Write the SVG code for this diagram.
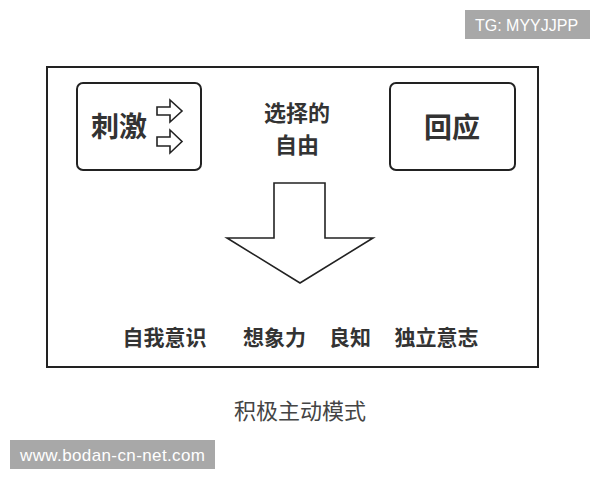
<svg xmlns="http://www.w3.org/2000/svg" width="600" height="480" viewBox="0 0 600 480">
<style>
.box{fill:#fff;stroke:#222;stroke-width:2}
.ln{fill:#fff;stroke:#222;stroke-width:1.6;stroke-linejoin:miter}
.cn{font-family:"Noto Sans CJK SC","Noto Sans",sans-serif;font-weight:bold;fill:#333;text-anchor:middle}
.wm{font-family:"Liberation Sans",Arial,sans-serif;fill:#fff}
</style>
<rect width="600" height="480" fill="#fff"/>
<g id="frame"><rect class="box" x="47" y="67" width="491" height="300"/></g>
<g id="stimulus">
<rect class="box" x="77" y="83" width="124" height="87" rx="6"/>
<text class="cn" x="119" y="137" font-size="28">刺激</text>
</g>
<g id="response">
<rect class="box" x="390" y="83" width="125" height="87" rx="6"/>
<text class="cn" x="452" y="138" font-size="28">回应</text>
</g>
<g id="choice"><text class="cn" font-size="22"><tspan x="297" y="121">选择的</tspan><tspan x="297" y="153">自由</tspan></text></g>
<g id="connectors">
<path class="ln" d="M157,107 H170 V100 L182,111 L170,122 V115 H157 Z"/>
<path class="ln" d="M157,137 H170 V130 L182,141.5 L170,153 V146 H157 Z"/>
<path class="ln" d="M274,183 H325 V238 H373 L300,283 L227,238 H274 Z"/>
</g>
<g id="labels" font-size="21">
<text class="cn" x="164.5" y="345">自我意识</text>
<text class="cn" x="274.5" y="345">想象力</text>
<text class="cn" x="350" y="345">良知</text>
<text class="cn" x="436.5" y="345">独立意志</text>
</g>
<g id="caption"><text x="300" y="419" font-size="22" font-family="Noto Sans CJK SC,sans-serif" fill="#444" text-anchor="middle">积极主动模式</text></g>
<g id="tg"><rect x="465" y="10" width="125" height="29" fill="#a8a8a8"/><text class="wm" x="475" y="31" font-size="16">TG: MYYJJPP</text></g>
<g id="site"><rect x="10" y="440" width="205" height="29" fill="#a8a8a8"/><text class="wm" x="20" y="461" font-size="17" textLength="185">www.bodan-cn-net.com</text></g>
</svg>
